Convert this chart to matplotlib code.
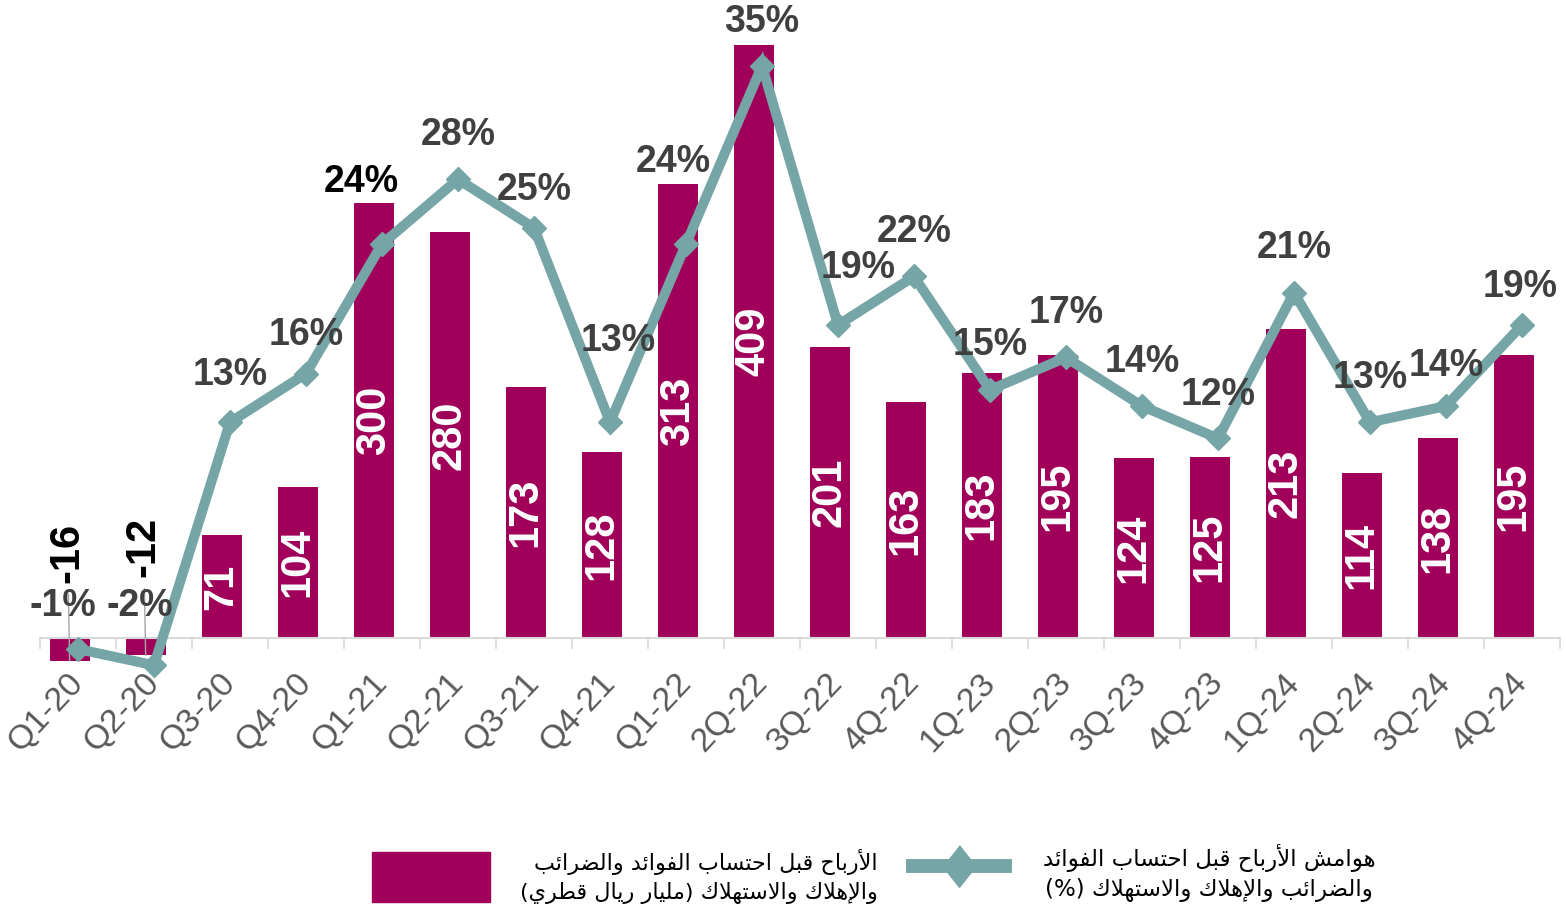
import numpy as np
import matplotlib
matplotlib.use('Agg')
import matplotlib.pyplot as plt
from matplotlib.lines import Line2D
from matplotlib.patches import Rectangle

plt.rcParams['font.family'] = ['Liberation Sans', 'DejaVu Sans']

quarters = ['Q1-20', 'Q2-20', 'Q3-20', 'Q4-20', 'Q1-21', 'Q2-21', 'Q3-21', 'Q4-21',
            'Q1-22', '2Q-22', '3Q-22', '4Q-22', '1Q-23', '2Q-23', '3Q-23', '4Q-23',
            '1Q-24', '2Q-24', '3Q-24', '4Q-24']
ebitda = [-16, -12, 71, 104, 300, 280, 173, 128, 313, 409,
          201, 163, 183, 195, 124, 125, 213, 114, 138, 195]
margin = [-1, -2, 13, 16, 24, 28, 25, 13, 24, 35,
          19, 22, 15, 17, 14, 12, 21, 13, 14, 19]

bar_legend = ['الأرباح قبل احتساب الفوائد والضرائب',
              'والإهلاك والاستهلاك (مليار ريال قطري)']
line_legend = ['هوامش الأرباح قبل احتساب الفوائد',
               'والضرائب والإهلاك والاستهلاك (%)']

# where each margin label sits relative to its marker (pixels)
margin_offsets = [(-15, 43), (-14, 59), (0, 47), (0, 39), (-21, 62), (0, 44), (0, 38),
                  (8, 81), (-13, 82), (0, 44), (20, 57), (0, 44), (0, 45), (0, 44),
                  (0, 44), (0, 43), (0, 45), (0, 44), (0, 40), (-2, 38)]

BAR_COLOR = '#A0005A'
LINE_COLOR = '#76A5A7'

# minimal Arabic shaping: contextual forms + lam-alef, then visual order
ARABIC = 'ءآأؤإئابةتثجحخدذرزسشصضطظعغفقكلمنهوىي'
NFORMS = [1, 2, 2, 2, 2, 4, 2, 4, 2, 4, 4, 4, 4, 4, 2, 2, 2, 2,
          4, 4, 4, 4, 4, 4, 4, 4, 4, 4, 4, 4, 4, 4, 4, 2, 2, 4]
FORMS = {}
code = 0xFE80
for ch, n in zip(ARABIC, NFORMS):
    FORMS[ch] = (code, n)
    code += n
LAM_ALEF = {'آ': 0xFEF5, 'أ': 0xFEF7, 'إ': 0xFEF9, 'ا': 0xFEFB}
MIRROR = {'(': ')', ')': '('}


def shape(text):
    out = []
    prev_joins = False
    i = 0
    while i < len(text):
        ch = text[i]
        nxt = text[i + 1] if i + 1 < len(text) else ''
        if ch == 'ل' and nxt and nxt in LAM_ALEF:
            out.append(chr(LAM_ALEF[nxt] + (1 if prev_joins else 0)))
            prev_joins = False
            i += 2
            continue
        if ch in FORMS:
            base, n = FORMS[ch]
            next_joins = bool(nxt) and nxt in FORMS and FORMS[nxt][1] > 1
            if n == 4:
                form = (1 if prev_joins else 0) + (2 if next_joins else 0)
            elif n == 2:
                form = 1 if prev_joins else 0
            else:
                form = 0
            out.append(chr(base + form))
            prev_joins = n == 4
        else:
            out.append(MIRROR.get(ch, ch))
            prev_joins = False
        i += 1
    return ''.join(reversed(out))


W, H = 1566, 911
fig = plt.figure(figsize=(W / 100, H / 100), dpi=100)
ax = fig.add_axes([40 / W, 1 - 680 / H, 1520 / W, 660 / H])
ax2 = ax.twinx()

x = np.arange(len(quarters))
xb = x - 0.11

ax.bar(xb, ebitda, width=0.53, color=BAR_COLOR, zorder=2)
for xi, v in zip(xb, ebitda):
    if v > 0:
        ax.text(xi, v / 2, str(v), rotation=90, ha='center', va='center',
                color='white', fontsize=30, fontweight='bold', zorder=3)
    else:
        ax.annotate(str(v), (xi, v), xytext=(-2, 108), textcoords='offset pixels',
                    rotation=90, ha='center', va='center', color='black',
                    fontsize=30, fontweight='bold',
                    arrowprops=dict(arrowstyle='-', color='#A6A6A6', lw=1,
                                    shrinkA=6, shrinkB=0))

ax2.plot(x, margin, color=LINE_COLOR, lw=7.2, marker='D', ms=12.5,
         solid_joinstyle='miter', zorder=3)
for i, (m, off) in enumerate(zip(margin, margin_offsets)):
    ax2.annotate(f'{m}%', (i, m), xytext=off, textcoords='offset pixels',
                 ha='center', va='center', fontsize=27, fontweight='bold',
                 color='black' if i == 4 else '#404040')

ax.set_xlim(-0.5, 19.5)
ax.set_ylim(-28.97, 426.2)
ax2.set_ylim(-2.91, 37.83)

for a in (ax, ax2):
    for s in a.spines.values():
        s.set_visible(False)
    a.set_yticks([])
ax.spines['bottom'].set_visible(True)
ax.spines['bottom'].set_position(('data', 0))
ax.spines['bottom'].set_color('#D9D9D9')
ax.spines['bottom'].set_linewidth(1.5)

ax.set_xticks(x)
ax.set_xticklabels(quarters, rotation=47, ha='right', va='center',
                   rotation_mode='anchor', fontsize=24.5, color='#595959')
ax.set_xticks(np.arange(-0.5, 20, 1), minor=True)
ax.tick_params(axis='x', which='major', length=0, pad=29)
ax.tick_params(axis='x', which='minor', length=8, width=1.2,
               color='#D9D9D9', direction='out')

# legend
fig.add_artist(Rectangle((372 / W, 1 - 902 / H), 118 / W, 50 / H,
                         transform=fig.transFigure, color=BAR_COLOR))
fig.text(878 / W, 1 - 862 / H, shape(bar_legend[0]), ha='right', va='center',
         fontsize=16, family='DejaVu Sans', color='black')
fig.text(878 / W, 1 - 893 / H, shape(bar_legend[1]), ha='right', va='center',
         fontsize=16, family='DejaVu Sans', color='black')

fig.add_artist(Line2D([913 / W, 1005 / W], [1 - 866 / H] * 2,
                      transform=fig.transFigure, color=LINE_COLOR, lw=10))
fig.add_artist(Line2D([959 / W], [1 - 866 / H], transform=fig.transFigure,
                      marker=[(0, 1), (0.79, 0), (0, -1), (-0.79, 0)], ms=30,
                      color=LINE_COLOR, lw=0))
fig.text(1209 / W, 1 - 858 / H, shape(line_legend[0]), ha='center', va='center',
         fontsize=16.5, family='DejaVu Sans', color='black')
fig.text(1209 / W, 1 - 890 / H, shape(line_legend[1]), ha='center', va='center',
         fontsize=16.5, family='DejaVu Sans', color='black')

fig.savefig('out.png', dpi=100)
